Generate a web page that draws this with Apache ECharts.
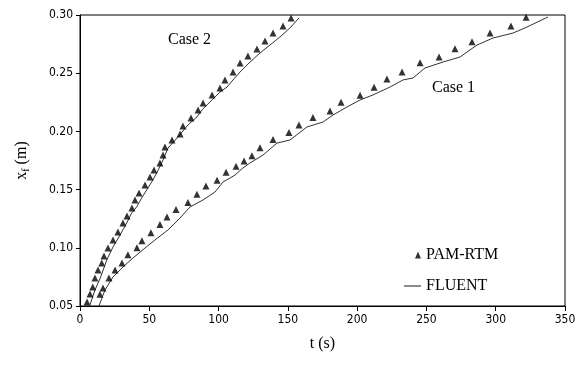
<!DOCTYPE html>
<html>
<head>
<meta charset="utf-8">
<script src="https://cdn.jsdelivr.net/npm/echarts@6/dist/echarts.min.js"></script>
<style>
html, body { margin: 0; padding: 0; background: #fff; }
#main { width: 584px; height: 365px; }
</style>
</head>
<body>
<div id="main"></div>
<script>
// Case 1 - PAM-RTM (t [s], xf [m])
var case1RtmT = [14.4, 16.6, 20.9, 25.3, 30.3, 34.6, 41.1, 44.7, 51.2, 57.7, 62.8, 69.3, 77.9, 84.4, 90.9, 98.9, 105.4, 112.6, 118.4, 124.1, 129.9, 139.3, 150.8, 158.0, 168.1, 180.4, 188.4, 202.1, 212.2, 221.5, 232.4, 245.4, 259.1, 270.6, 282.9, 295.9, 311.0, 321.9]
var case1RtmX = [0.060, 0.0655, 0.074, 0.081, 0.087, 0.094, 0.100, 0.106, 0.113, 0.120, 0.1265, 0.133, 0.139, 0.146, 0.153, 0.158, 0.165, 0.170, 0.1745, 0.179, 0.186, 0.193, 0.199, 0.2055, 0.212, 0.2175, 0.225, 0.231, 0.238, 0.245, 0.251, 0.259, 0.264, 0.271, 0.277, 0.2845, 0.2905, 0.298]

// Case 1 - FLUENT
var case1FluT = [13.7, 18.0, 23.8, 31.0, 38.2, 46.9, 54.1, 63.5, 72.2, 79.4, 88.8, 97.4, 103.2, 111.9, 117.6, 122.7, 132.1, 142.2, 151.5, 163.8, 175.4, 182.6, 192.7, 202.1, 211.4, 223.7, 233.1, 240.3, 249.0, 262.0, 274.2, 286.5, 298.0, 312.5, 322.6, 337.7]
var case1FluX = [0.050, 0.0637, 0.0749, 0.0835, 0.0912, 0.0998, 0.1067, 0.1153, 0.1256, 0.1351, 0.1411, 0.1479, 0.1565, 0.1625, 0.1686, 0.1729, 0.1797, 0.190, 0.1926, 0.2038, 0.2081, 0.2141, 0.221, 0.227, 0.2313, 0.2381, 0.2442, 0.2459, 0.2545, 0.2596, 0.2639, 0.2742, 0.2802, 0.2845, 0.2897, 0.2983]

// Case 2 - PAM-RTM
var case2RtmT = [5.1, 7.2, 9.2, 10.8, 13.0, 15.7, 17.3, 20.2, 23.8, 27.4, 31.0, 33.9, 37.5, 39.7, 42.6, 46.9, 50.5, 53.4, 57.7, 59.9, 61.3, 66.4, 72.2, 74.3, 80.1, 85.2, 88.8, 95.3, 101.0, 104.6, 110.4, 115.5, 121.2, 127.7, 133.5, 139.3, 146.5, 152.3]
var case2RtmX = [0.0534, 0.0603, 0.0663, 0.074, 0.0809, 0.0869, 0.093, 0.0998, 0.1067, 0.1136, 0.1213, 0.1273, 0.1342, 0.1411, 0.1471, 0.154, 0.1608, 0.1668, 0.1729, 0.1797, 0.1866, 0.1926, 0.1978, 0.2046, 0.2115, 0.2184, 0.2244, 0.2313, 0.2373, 0.2442, 0.251, 0.2588, 0.2648, 0.2708, 0.2777, 0.2845, 0.2905, 0.2974]

// Case 2 - FLUENT
var case2FluT = [7.2, 10.8, 14.9, 19.3, 23.8, 28.9, 33.7, 37.3, 40.9, 44.5, 48.1, 51.7, 55.4, 59.9, 63.5, 70.7, 77.9, 84.4, 88.0, 93.8, 101.0, 106.1, 110.4, 115.5, 122.7, 129.9, 137.1, 144.3, 151.5, 158.0]
var case2FluX = [0.0509, 0.0637, 0.0749, 0.0895, 0.1007, 0.111, 0.1213, 0.1299, 0.1351, 0.1428, 0.1497, 0.1565, 0.1643, 0.1754, 0.1857, 0.1952, 0.2055, 0.2124, 0.2184, 0.2253, 0.2338, 0.2381, 0.2442, 0.251, 0.2596, 0.2674, 0.2742, 0.2811, 0.2888, 0.2974]

function pairs(t, x) {
	return t.map(function (v, i) { return [v, x[i]] })
}

var serif = '"Liberation Serif", "Times New Roman", serif'
var narrow = '"DejaVu Sans Condensed", "Liberation Sans Narrow", "Arial Narrow", sans-serif'

var myChart = echarts.init(document.getElementById('main'))

var rtmStyle = {
	type: 'scatter',
	name: 'PAM-RTM',
	symbol: 'triangle',
	symbolSize: 7,
	itemStyle: { color: '#000' },
	z: 3,
}
var fluStyle = {
	type: 'line',
	name: 'FLUENT',
	showSymbol: false,
	symbol: 'none',
	lineStyle: { color: '#333', width: 1 },
	itemStyle: { color: '#333' },
	z: 2,
}

var option = {
	animation: false,
	backgroundColor: '#fff',
	grid: {
		left: 80,
		right: 19,
		top: 15,
		bottom: 59,
		show: true,
		borderColor: '#000',
		borderWidth: 1,
	},
	legend: {
		orient: 'vertical',
		left: 399,
		top: 242,
		itemWidth: 17,
		itemHeight: 7,
		itemGap: 15,
		textStyle: { fontFamily: serif, fontSize: 16, color: '#000' },
		data: [
			{ name: 'PAM-RTM', icon: 'path://M0,7L0.01,7M14,0L17,7H11Z' },
			{ name: 'FLUENT', icon: 'path://M0,6H15V7H0Z' },
		],
	},
	xAxis: {
		type: 'value',
		min: 0,
		max: 350,
		interval: 50,
		name: 't (s)',
		nameLocation: 'middle',
		nameGap: 30,
		nameTextStyle: { fontFamily: serif, fontSize: 16, color: '#000' },
		axisLine: { show: true, lineStyle: { color: '#000', width: 1 } },
		axisTick: { show: true, inside: false, length: 5, lineStyle: { color: '#000' } },
		axisLabel: { fontFamily: narrow, fontSize: 12, color: '#000', margin: 8 },
		splitLine: { show: false },
	},
	yAxis: {
		type: 'value',
		min: 0.05,
		max: 0.3,
		interval: 0.05,
		name: 'x{sub|f} (m)',
		nameLocation: 'middle',
		nameGap: 49,
		nameRotate: 90,
		nameTextStyle: {
			fontFamily: serif,
			fontSize: 16,
			color: '#000',
			rich: {
				sub: { fontFamily: serif, fontSize: 10, color: '#000', verticalAlign: 'bottom', padding: [8, 0, 0, 0] },
			},
		},
		axisLine: { show: true, lineStyle: { color: '#000', width: 1 } },
		axisTick: { show: true, inside: false, length: 4, lineStyle: { color: '#000' } },
		axisLabel: {
			fontFamily: narrow,
			fontSize: 12,
			color: '#000',
			margin: 7,
			formatter: function (v) { return v.toFixed(2) },
		},
		splitLine: { show: false },
	},
	graphic: [
		{ type: 'text', left: 168, top: 32, style: { text: 'Case 2', font: '16px ' + serif, fill: '#000' } },
		{ type: 'text', left: 432, top: 80, style: { text: 'Case 1', font: '16px ' + serif, fill: '#000' } },
	],
	series: [
		Object.assign({}, fluStyle, { data: pairs(case1FluT, case1FluX) }),
		Object.assign({}, fluStyle, { data: pairs(case2FluT, case2FluX) }),
		Object.assign({}, rtmStyle, { data: pairs(case1RtmT, case1RtmX) }),
		Object.assign({}, rtmStyle, { data: pairs(case2RtmT, case2RtmX) }),
	],
}
myChart.setOption(option)
</script>
</body>
</html>
